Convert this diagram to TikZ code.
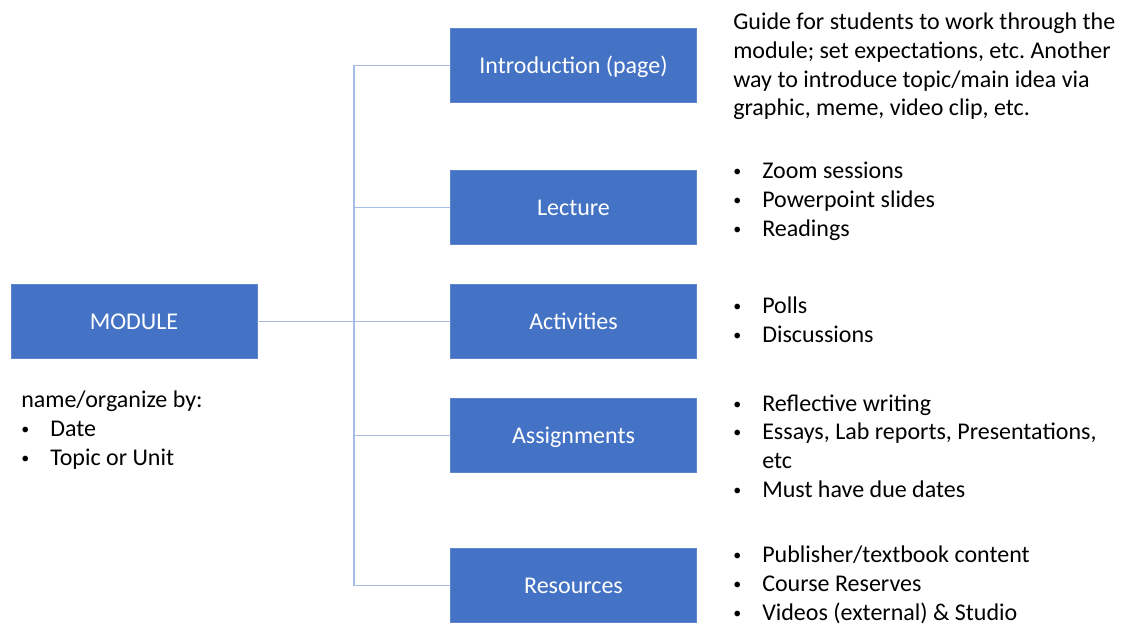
\documentclass[tikz,border=0pt]{standalone}
\usepackage{fontspec}
\setmainfont{Carlito}
\frenchspacing
\definecolor{boxblue}{HTML}{4472C4}
\definecolor{boxedge}{HTML}{5F86CC}
\definecolor{linkblue}{HTML}{A6BDE6}
\newcommand\bul{\makebox[21.75pt][l]{\raisebox{1.4pt}{\fontsize{12}{12}\selectfont •}}}
\begin{document}
\begin{tikzpicture}[x=0.75pt,y=-0.75pt,
  topic/.style={rectangle, fill=boxblue, draw=boxedge, line width=0.6pt, text=white,
    minimum width=246*0.75pt, minimum height=74*0.75pt, inner sep=0pt,
    text height=14pt, text depth=2pt,
    font=\fontsize{18}{21.75}\selectfont},
  link/.style={draw=linkblue, line width=1.3pt},
  desc/.style={anchor=base west, align=left, inner sep=0pt,
    font=\fontsize{18}{21.5}\selectfont}]
\useasboundingbox (0,0) rectangle (1123,624);
\fill[white] (0,0) rectangle (1123,624);

\coordinate (trunk) at (354,0);

\node[topic] (mod) at (134,321.5) {MODULE};
\node[topic] (intro) at (573.5,65.5) {Introduction (page)};
\node[topic] (lec) at (573.5,207.5) {Lecture};
\node[topic] (act) at (573.5,321.5) {Activities};
\node[topic] (asg) at (573.5,435.5) {Assignments};
\node[topic] (res) at (573.5,585.5) {Resources};

\draw[link] (mod.east) -- (act.west);
\draw[link] (intro.west) -- (intro.west -| trunk) -- (res.west -| trunk) -- (res.west);
\draw[link] (lec.west -| trunk) -- (lec.west);
\draw[link] (asg.west -| trunk) -- (asg.west);

% anchors are at the baseline of each block's last line
\node[desc] (modtxt) at (21,465) {name/organize by:\\\bul Date\\\bul Topic or Unit};
\node[desc] (introtxt) at (733,116) {Guide for students to work through the\\module; set expectations, etc. Another\\way to introduce topic/main idea via\\graphic, meme, video clip, etc.};
\node[desc] (lectxt) at (733,236) {\bul Zoom sessions\\\bul Powerpoint slides\\\bul Readings};
\node[desc] (acttxt) at (733,342) {\bul Polls\\\bul Discussions};
\node[desc] (asgtxt) at (733,497) {\bul Reflective writing\\\bul Essays, Lab reports, Presentations,\\\hspace*{21.75pt}etc\\\bul Must have due dates};
\node[desc] (restxt) at (733,620) {\bul Publisher/textbook content\\\bul Course Reserves\\\bul Videos (external) \& Studio};
\end{tikzpicture}
\end{document}
